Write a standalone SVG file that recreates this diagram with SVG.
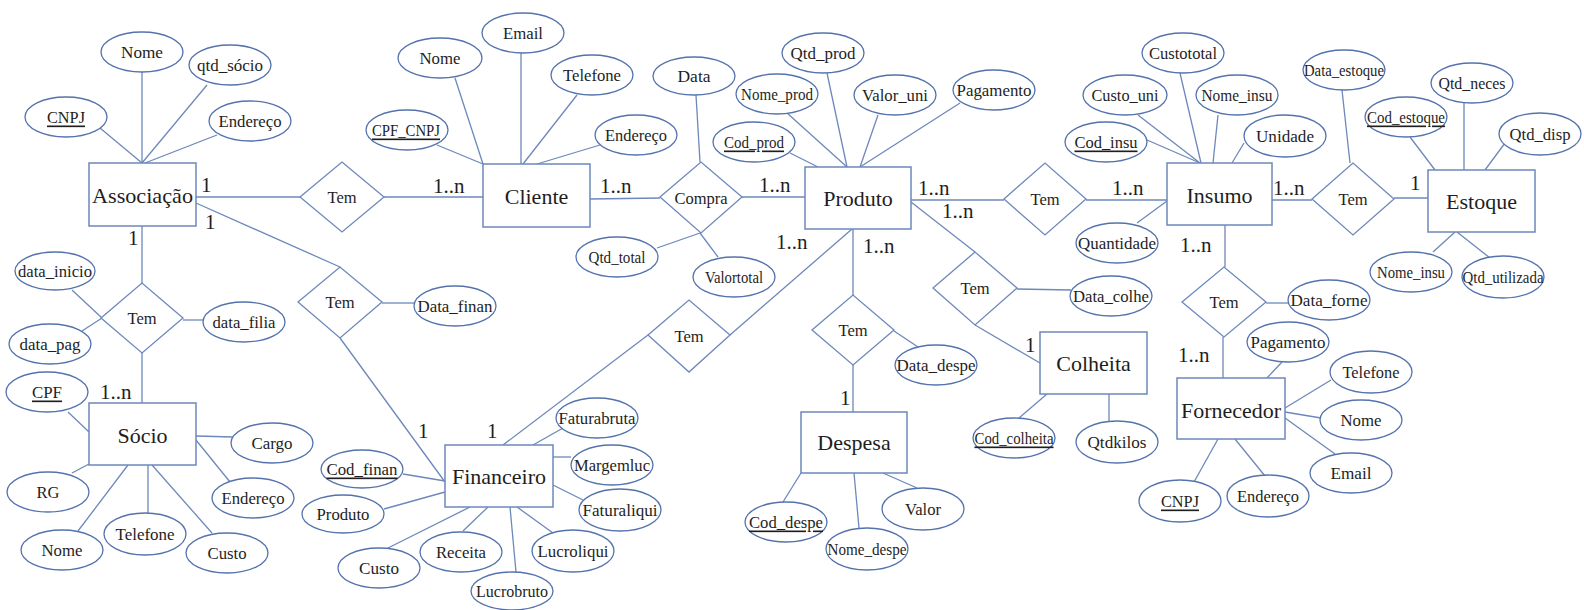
<svg xmlns="http://www.w3.org/2000/svg" width="1584" height="610" viewBox="0 0 1584 610">
<style>
  text { font-family: "Liberation Serif", "Times New Roman", serif; fill: #1e1e1e; }
  .ent rect { fill: #fff; stroke: #6d88bb; stroke-width: 1.5; }
  .ent text { font-size: 22px; text-anchor: middle; dominant-baseline: central; }
  .att ellipse { fill: #fff; stroke: #5473ad; stroke-width: 1.3; }
  .att text, .rel text { font-size: 16.5px; text-anchor: middle; dominant-baseline: central; }
  .rel polygon { fill: #fff; stroke: #6d88bb; stroke-width: 1.3; }
  .key { text-decoration: underline; }
  #connectors line { stroke: #6d88bb; stroke-width: 1.3; }
  .card { font-size: 21px; }
</style>
<rect width="1584" height="610" fill="#fff"/>

<!-- connectors -->
<g id="connectors">
  <!-- Associação -->
  <line x1="100" y1="128" x2="142" y2="163"/>
  <line x1="142" y1="72" x2="142" y2="163"/>
  <line x1="207" y1="85" x2="142" y2="163"/>
  <line x1="217" y1="135" x2="145" y2="163"/>
  <line x1="196" y1="197" x2="300" y2="197"/>
  <line x1="384" y1="197" x2="483" y2="197"/>
  <line x1="142" y1="226" x2="142" y2="283"/>
  <line x1="142" y1="353" x2="142" y2="403"/>
  <line x1="183" y1="320" x2="203" y2="320"/>
  <line x1="72" y1="290" x2="102" y2="318"/>
  <line x1="82" y1="331" x2="102" y2="318"/>
  <line x1="196" y1="203" x2="340" y2="267"/>
  <line x1="340" y1="338" x2="445" y2="482"/>
  <line x1="382" y1="303" x2="414" y2="303"/>
  <!-- Sócio -->
  <line x1="68" y1="412" x2="89" y2="432"/>
  <line x1="196" y1="436" x2="233" y2="437"/>
  <line x1="196" y1="440" x2="230" y2="482"/>
  <line x1="72" y1="473" x2="89" y2="464"/>
  <line x1="78" y1="531" x2="128" y2="465"/>
  <line x1="148" y1="513" x2="148" y2="465"/>
  <line x1="212" y1="533" x2="152" y2="465"/>
  <!-- Financeiro -->
  <line x1="403" y1="474" x2="445" y2="481"/>
  <line x1="384" y1="509" x2="445" y2="492"/>
  <line x1="388" y1="548" x2="470" y2="507"/>
  <line x1="488" y1="507" x2="463" y2="531"/>
  <line x1="510" y1="507" x2="516" y2="572"/>
  <line x1="517" y1="507" x2="553" y2="533"/>
  <line x1="553" y1="485" x2="583" y2="500"/>
  <line x1="553" y1="457" x2="571" y2="457"/>
  <line x1="533" y1="445" x2="563" y2="428"/>
  <line x1="503" y1="445" x2="648" y2="335"/>
  <line x1="730" y1="335" x2="852" y2="229"/>
  <!-- Cliente -->
  <line x1="437" y1="145" x2="483" y2="164"/>
  <line x1="455" y1="78" x2="483" y2="164"/>
  <line x1="521" y1="53" x2="521" y2="164"/>
  <line x1="577" y1="95" x2="523" y2="164"/>
  <line x1="600" y1="145" x2="537" y2="164"/>
  <line x1="590" y1="199" x2="660" y2="198"/>
  <line x1="742" y1="197" x2="805" y2="197"/>
  <line x1="696" y1="95" x2="700" y2="162"/>
  <line x1="657" y1="248" x2="700" y2="233"/>
  <line x1="718" y1="257" x2="700" y2="233"/>
  <!-- Produto -->
  <line x1="790" y1="153" x2="818" y2="167"/>
  <line x1="787" y1="113" x2="847" y2="167"/>
  <line x1="827" y1="73" x2="847" y2="167"/>
  <line x1="878" y1="115" x2="860" y2="167"/>
  <line x1="960" y1="103" x2="860" y2="167"/>
  <line x1="911" y1="200" x2="1004" y2="200"/>
  <line x1="1086" y1="200" x2="1167" y2="200"/>
  <line x1="911" y1="202" x2="975" y2="252"/>
  <line x1="975" y1="325" x2="1040" y2="363"/>
  <line x1="1017" y1="289" x2="1071" y2="290"/>
  <line x1="853" y1="229" x2="853" y2="295"/>
  <line x1="853" y1="365" x2="853" y2="412"/>
  <line x1="894" y1="331" x2="918" y2="347"/>
  <!-- Despesa / Colheita -->
  <line x1="801" y1="473" x2="783" y2="502"/>
  <line x1="854" y1="473" x2="859" y2="528"/>
  <line x1="883" y1="473" x2="917" y2="488"/>
  <line x1="1047" y1="394" x2="1019" y2="418"/>
  <line x1="1109" y1="394" x2="1109" y2="422"/>
  <!-- Insumo -->
  <line x1="1180" y1="73" x2="1201" y2="163"/>
  <line x1="1138" y1="115" x2="1200" y2="163"/>
  <line x1="1147" y1="140" x2="1200" y2="163"/>
  <line x1="1218" y1="115" x2="1213" y2="163"/>
  <line x1="1244" y1="143" x2="1232" y2="163"/>
  <line x1="1137" y1="223" x2="1167" y2="201"/>
  <line x1="1272" y1="200" x2="1312" y2="200"/>
  <line x1="1394" y1="198" x2="1428" y2="198"/>
  <line x1="1342" y1="90" x2="1350" y2="163"/>
  <line x1="1225" y1="225" x2="1225" y2="267"/>
  <line x1="1223" y1="337" x2="1223" y2="378"/>
  <line x1="1266" y1="303" x2="1289" y2="303"/>
  <!-- Estoque -->
  <line x1="1410" y1="137" x2="1435" y2="170"/>
  <line x1="1464" y1="103" x2="1464" y2="170"/>
  <line x1="1505" y1="143" x2="1485" y2="170"/>
  <line x1="1433" y1="252" x2="1455" y2="232"/>
  <line x1="1490" y1="258" x2="1457" y2="232"/>
  <!-- Fornecedor -->
  <line x1="1282" y1="362" x2="1267" y2="378"/>
  <line x1="1331" y1="380" x2="1285" y2="408"/>
  <line x1="1285" y1="412" x2="1321" y2="418"/>
  <line x1="1285" y1="418" x2="1335" y2="454"/>
  <line x1="1235" y1="439" x2="1265" y2="476"/>
  <line x1="1218" y1="439" x2="1194" y2="482"/>
</g>

<!-- cardinalities -->
<g id="cardinalities">
  <text class="card" x="201" y="192">1</text>
  <text class="card" x="205" y="229">1</text>
  <text class="card" x="128" y="245">1</text>
  <text class="card" x="100" y="399">1..n</text>
  <text class="card" x="433" y="193">1..n</text>
  <text class="card" x="600" y="193">1..n</text>
  <text class="card" x="759" y="192">1..n</text>
  <text class="card" x="776" y="249">1..n</text>
  <text class="card" x="863" y="253">1..n</text>
  <text class="card" x="918" y="195">1..n</text>
  <text class="card" x="942" y="218">1..n</text>
  <text class="card" x="1112" y="195">1..n</text>
  <text class="card" x="1273" y="195">1..n</text>
  <text class="card" x="1410" y="190">1</text>
  <text class="card" x="1180" y="252">1..n</text>
  <text class="card" x="1178" y="362">1..n</text>
  <text class="card" x="1025" y="352">1</text>
  <text class="card" x="840" y="405">1</text>
  <text class="card" x="418" y="438">1</text>
  <text class="card" x="487" y="438">1</text>
</g>

<!-- entities -->
<g id="associacao" class="ent"><rect x="89" y="163" width="107" height="63"/><text x="142.5" y="195" textLength="101" lengthAdjust="spacingAndGlyphs">Associação</text></g>
<g id="socio" class="ent"><rect x="89" y="403" width="107" height="62"/><text x="142.5" y="435">Sócio</text></g>
<g id="cliente" class="ent"><rect x="483" y="164" width="107" height="63"/><text x="536.5" y="196">Cliente</text></g>
<g id="produto" class="ent"><rect x="805" y="167" width="106" height="62"/><text x="858" y="198">Produto</text></g>
<g id="insumo" class="ent"><rect x="1167" y="163" width="105" height="62"/><text x="1219.5" y="195">Insumo</text></g>
<g id="estoque" class="ent"><rect x="1428" y="170" width="107" height="62"/><text x="1481.5" y="201">Estoque</text></g>
<g id="financeiro" class="ent"><rect x="445" y="445" width="108" height="62"/><text x="499" y="476">Financeiro</text></g>
<g id="despesa" class="ent"><rect x="801" y="412" width="106" height="61"/><text x="854" y="442">Despesa</text></g>
<g id="colheita" class="ent"><rect x="1040" y="332" width="107" height="62"/><text x="1093.5" y="363">Colheita</text></g>
<g id="fornecedor" class="ent"><rect x="1177" y="378" width="108" height="61"/><text x="1231" y="410">Fornecedor</text></g>

<!-- relationships -->
<g id="rel-associacao-cliente" class="rel"><polygon points="300,197 342,162 384,197 342,232"/><text x="342" y="197">Tem</text></g>
<g id="rel-associacao-socio" class="rel"><polygon points="101,318 142,283 183,318 142,353"/><text x="142" y="318">Tem</text></g>
<g id="rel-associacao-financeiro" class="rel"><polygon points="298,302 340,267 382,302 340,338"/><text x="340" y="302">Tem</text></g>
<g id="rel-compra" class="rel"><polygon points="660,197 701,162 742,197 701,233"/><text x="701" y="198">Compra</text></g>
<g id="rel-financeiro-produto" class="rel"><polygon points="648,335 689,300 730,335 689,372"/><text x="689" y="336">Tem</text></g>
<g id="rel-produto-insumo" class="rel"><polygon points="1004,199 1045,163 1086,199 1045,235"/><text x="1045" y="199">Tem</text></g>
<g id="rel-produto-colheita" class="rel"><polygon points="933,288 975,252 1017,288 975,325"/><text x="975" y="288">Tem</text></g>
<g id="rel-produto-despesa" class="rel"><polygon points="812,330 853,295 894,330 853,365"/><text x="853" y="330">Tem</text></g>
<g id="rel-insumo-estoque" class="rel"><polygon points="1312,199 1353,163 1394,199 1353,235"/><text x="1353" y="199">Tem</text></g>
<g id="rel-insumo-fornecedor" class="rel"><polygon points="1182,302 1224,267 1266,302 1224,337"/><text x="1224" y="302">Tem</text></g>

<!-- attributes -->
<g id="associacao-nome" class="att"><ellipse cx="142" cy="52" rx="41" ry="20"/><text x="142" y="52" textLength="42" lengthAdjust="spacingAndGlyphs">Nome</text></g>
<g id="associacao-qtd" class="att"><ellipse cx="230" cy="65" rx="41" ry="20"/><text x="230" y="65" textLength="66" lengthAdjust="spacingAndGlyphs">qtd_sócio</text></g>
<g id="associacao-cnpj" class="att"><ellipse cx="66" cy="117" rx="41" ry="20"/><text class="key" x="66" y="117" textLength="38" lengthAdjust="spacingAndGlyphs">CNPJ</text></g>
<g id="associacao-endereco" class="att"><ellipse cx="250" cy="121" rx="41" ry="20"/><text x="250" y="121" textLength="63" lengthAdjust="spacingAndGlyphs">Endereço</text></g>
<g id="filia-inicio" class="att"><ellipse cx="55" cy="271" rx="40" ry="19"/><text x="55" y="271" textLength="74" lengthAdjust="spacingAndGlyphs">data_inicio</text></g>
<g id="filia-data" class="att"><ellipse cx="244" cy="322" rx="41" ry="20"/><text x="244" y="322" textLength="63" lengthAdjust="spacingAndGlyphs">data_filia</text></g>
<g id="filia-pag" class="att"><ellipse cx="50" cy="344" rx="41" ry="20"/><text x="50" y="344" textLength="61" lengthAdjust="spacingAndGlyphs">data_pag</text></g>
<g id="socio-cpf" class="att"><ellipse cx="47" cy="392" rx="41" ry="20"/><text class="key" x="47" y="392" textLength="30" lengthAdjust="spacingAndGlyphs">CPF</text></g>
<g id="socio-cargo" class="att"><ellipse cx="272" cy="443" rx="41" ry="20"/><text x="272" y="443" textLength="41" lengthAdjust="spacingAndGlyphs">Cargo</text></g>
<g id="socio-endereco" class="att"><ellipse cx="253" cy="498" rx="41" ry="20"/><text x="253" y="498" textLength="63" lengthAdjust="spacingAndGlyphs">Endereço</text></g>
<g id="socio-rg" class="att"><ellipse cx="48" cy="492" rx="41" ry="20"/><text x="48" y="492" textLength="23" lengthAdjust="spacingAndGlyphs">RG</text></g>
<g id="socio-nome" class="att"><ellipse cx="62" cy="550" rx="41" ry="20"/><text x="62" y="550" textLength="41" lengthAdjust="spacingAndGlyphs">Nome</text></g>
<g id="socio-telefone" class="att"><ellipse cx="145" cy="534" rx="41" ry="21"/><text x="145" y="534" textLength="59" lengthAdjust="spacingAndGlyphs">Telefone</text></g>
<g id="socio-custo" class="att"><ellipse cx="227" cy="553" rx="41" ry="20"/><text x="227" y="553" textLength="39" lengthAdjust="spacingAndGlyphs">Custo</text></g>
<g id="finan-data" class="att"><ellipse cx="455" cy="306" rx="41" ry="20"/><text x="455" y="306" textLength="75" lengthAdjust="spacingAndGlyphs">Data_finan</text></g>
<g id="financeiro-cod" class="att"><ellipse cx="362" cy="469" rx="41" ry="19"/><text class="key" x="362" y="469" textLength="71" lengthAdjust="spacingAndGlyphs">Cod_finan</text></g>
<g id="financeiro-produto" class="att"><ellipse cx="343" cy="514" rx="41" ry="19"/><text x="343" y="514" textLength="53" lengthAdjust="spacingAndGlyphs">Produto</text></g>
<g id="financeiro-custo" class="att"><ellipse cx="379" cy="568" rx="41" ry="20"/><text x="379" y="568" textLength="40" lengthAdjust="spacingAndGlyphs">Custo</text></g>
<g id="financeiro-receita" class="att"><ellipse cx="461" cy="552" rx="41" ry="20"/><text x="461" y="552" textLength="50" lengthAdjust="spacingAndGlyphs">Receita</text></g>
<g id="financeiro-lucrobruto" class="att"><ellipse cx="512" cy="591" rx="41" ry="19"/><text x="512" y="591" textLength="72" lengthAdjust="spacingAndGlyphs">Lucrobruto</text></g>
<g id="financeiro-lucroliqui" class="att"><ellipse cx="573" cy="551" rx="41" ry="21"/><text x="573" y="551" textLength="71" lengthAdjust="spacingAndGlyphs">Lucroliqui</text></g>
<g id="financeiro-faturaliqui" class="att"><ellipse cx="620" cy="510" rx="41" ry="21"/><text x="620" y="510" textLength="75" lengthAdjust="spacingAndGlyphs">Faturaliqui</text></g>
<g id="financeiro-margemluc" class="att"><ellipse cx="612" cy="465" rx="41" ry="20"/><text x="612" y="465" textLength="76" lengthAdjust="spacingAndGlyphs">Margemluc</text></g>
<g id="financeiro-faturabruta" class="att"><ellipse cx="597" cy="418" rx="41" ry="20"/><text x="597" y="418" textLength="77" lengthAdjust="spacingAndGlyphs">Faturabruta</text></g>
<g id="cliente-cpf" class="att"><ellipse cx="407" cy="130" rx="41" ry="20"/><text class="key" x="406" y="130" textLength="68" lengthAdjust="spacingAndGlyphs">CPF_CNPJ</text></g>
<g id="cliente-nome" class="att"><ellipse cx="440" cy="58" rx="42" ry="20"/><text x="440" y="58" textLength="41" lengthAdjust="spacingAndGlyphs">Nome</text></g>
<g id="cliente-email" class="att"><ellipse cx="523" cy="33" rx="41" ry="20"/><text x="523" y="33" textLength="40" lengthAdjust="spacingAndGlyphs">Email</text></g>
<g id="cliente-telefone" class="att"><ellipse cx="592" cy="75" rx="41" ry="20"/><text x="592" y="75" textLength="58" lengthAdjust="spacingAndGlyphs">Telefone</text></g>
<g id="cliente-endereco" class="att"><ellipse cx="636" cy="135" rx="41" ry="20"/><text x="636" y="135" textLength="62" lengthAdjust="spacingAndGlyphs">Endereço</text></g>
<g id="compra-data" class="att"><ellipse cx="694" cy="76" rx="41" ry="19"/><text x="694" y="76" textLength="33" lengthAdjust="spacingAndGlyphs">Data</text></g>
<g id="compra-qtd" class="att"><ellipse cx="617" cy="257" rx="41" ry="20"/><text x="617" y="257" textLength="57" lengthAdjust="spacingAndGlyphs">Qtd_total</text></g>
<g id="compra-valor" class="att"><ellipse cx="734" cy="277" rx="41" ry="20"/><text x="734" y="277" textLength="58" lengthAdjust="spacingAndGlyphs">Valortotal</text></g>
<g id="produto-nome" class="att"><ellipse cx="777" cy="94" rx="41" ry="20"/><text x="777" y="94" textLength="72" lengthAdjust="spacingAndGlyphs">Nome_prod</text></g>
<g id="produto-cod" class="att"><ellipse cx="754" cy="142" rx="41" ry="20"/><text class="key" x="754" y="142" textLength="60" lengthAdjust="spacingAndGlyphs">Cod_prod</text></g>
<g id="produto-qtd" class="att"><ellipse cx="823" cy="53" rx="41" ry="20"/><text x="823" y="53" textLength="65" lengthAdjust="spacingAndGlyphs">Qtd_prod</text></g>
<g id="produto-valor" class="att"><ellipse cx="895" cy="95" rx="41" ry="20"/><text x="895" y="95" textLength="66" lengthAdjust="spacingAndGlyphs">Valor_uni</text></g>
<g id="produto-pagamento" class="att"><ellipse cx="994" cy="90" rx="41" ry="20"/><text x="994" y="90" textLength="75" lengthAdjust="spacingAndGlyphs">Pagamento</text></g>
<g id="insumo-custototal" class="att"><ellipse cx="1183" cy="53" rx="41" ry="20"/><text x="1183" y="53" textLength="68" lengthAdjust="spacingAndGlyphs">Custototal</text></g>
<g id="insumo-custouni" class="att"><ellipse cx="1125" cy="95" rx="42" ry="20"/><text x="1125" y="95" textLength="67" lengthAdjust="spacingAndGlyphs">Custo_uni</text></g>
<g id="insumo-nome" class="att"><ellipse cx="1237" cy="95" rx="41" ry="20"/><text x="1237" y="95" textLength="71" lengthAdjust="spacingAndGlyphs">Nome_insu</text></g>
<g id="insumo-cod" class="att"><ellipse cx="1106" cy="142" rx="41" ry="20"/><text class="key" x="1106" y="142" textLength="63" lengthAdjust="spacingAndGlyphs">Cod_insu</text></g>
<g id="insumo-unidade" class="att"><ellipse cx="1285" cy="136" rx="41" ry="21"/><text x="1285" y="136" textLength="58" lengthAdjust="spacingAndGlyphs">Unidade</text></g>
<g id="insumo-quantidade" class="att"><ellipse cx="1117" cy="243" rx="41" ry="20"/><text x="1117" y="243" textLength="78" lengthAdjust="spacingAndGlyphs">Quantidade</text></g>
<g id="estoque-data" class="att"><ellipse cx="1344" cy="70" rx="41" ry="20"/><text x="1344" y="70" textLength="80" lengthAdjust="spacingAndGlyphs">Data_estoque</text></g>
<g id="estoque-cod" class="att"><ellipse cx="1406" cy="117" rx="41" ry="20"/><text class="key" x="1406" y="117" textLength="78" lengthAdjust="spacingAndGlyphs">Cod_estoque</text></g>
<g id="estoque-neces" class="att"><ellipse cx="1472" cy="83" rx="41" ry="20"/><text x="1472" y="83" textLength="67" lengthAdjust="spacingAndGlyphs">Qtd_neces</text></g>
<g id="estoque-disp" class="att"><ellipse cx="1540" cy="134" rx="41" ry="21"/><text x="1540" y="134" textLength="61" lengthAdjust="spacingAndGlyphs">Qtd_disp</text></g>
<g id="estoque-nome" class="att"><ellipse cx="1411" cy="272" rx="41" ry="20"/><text x="1411" y="272" textLength="68" lengthAdjust="spacingAndGlyphs">Nome_insu</text></g>
<g id="estoque-utilizada" class="att"><ellipse cx="1503" cy="277" rx="41" ry="21"/><text x="1503" y="277" textLength="81" lengthAdjust="spacingAndGlyphs">Qtd_utilizada</text></g>
<g id="forne-data" class="att"><ellipse cx="1329" cy="300" rx="41" ry="20"/><text x="1329" y="300" textLength="77" lengthAdjust="spacingAndGlyphs">Data_forne</text></g>
<g id="fornecedor-pagamento" class="att"><ellipse cx="1288" cy="342" rx="41" ry="20"/><text x="1288" y="342" textLength="75" lengthAdjust="spacingAndGlyphs">Pagamento</text></g>
<g id="fornecedor-telefone" class="att"><ellipse cx="1371" cy="372" rx="41" ry="21"/><text x="1371" y="372" textLength="57" lengthAdjust="spacingAndGlyphs">Telefone</text></g>
<g id="fornecedor-nome" class="att"><ellipse cx="1361" cy="420" rx="41" ry="20"/><text x="1361" y="420" textLength="41" lengthAdjust="spacingAndGlyphs">Nome</text></g>
<g id="fornecedor-email" class="att"><ellipse cx="1351" cy="473" rx="41" ry="20"/><text x="1351" y="473" textLength="41" lengthAdjust="spacingAndGlyphs">Email</text></g>
<g id="fornecedor-endereco" class="att"><ellipse cx="1268" cy="496" rx="41" ry="21"/><text x="1268" y="496" textLength="62" lengthAdjust="spacingAndGlyphs">Endereço</text></g>
<g id="fornecedor-cnpj" class="att"><ellipse cx="1180" cy="501" rx="41" ry="21"/><text class="key" x="1180" y="501" textLength="38" lengthAdjust="spacingAndGlyphs">CNPJ</text></g>
<g id="despe-data" class="att"><ellipse cx="936" cy="365" rx="41" ry="20"/><text x="936" y="365" textLength="79" lengthAdjust="spacingAndGlyphs">Data_despe</text></g>
<g id="despesa-cod" class="att"><ellipse cx="786" cy="522" rx="41" ry="20"/><text class="key" x="786" y="522" textLength="74" lengthAdjust="spacingAndGlyphs">Cod_despe</text></g>
<g id="despesa-nome" class="att"><ellipse cx="867" cy="549" rx="41" ry="21"/><text x="867" y="549" textLength="79" lengthAdjust="spacingAndGlyphs">Nome_despe</text></g>
<g id="despesa-valor" class="att"><ellipse cx="923" cy="509" rx="41" ry="21"/><text x="923" y="509" textLength="36" lengthAdjust="spacingAndGlyphs">Valor</text></g>
<g id="colhe-data" class="att"><ellipse cx="1111" cy="296" rx="41" ry="20"/><text x="1111" y="296" textLength="76" lengthAdjust="spacingAndGlyphs">Data_colhe</text></g>
<g id="colheita-cod" class="att"><ellipse cx="1014" cy="438" rx="41" ry="20"/><text class="key" x="1014" y="438" textLength="79" lengthAdjust="spacingAndGlyphs">Cod_colheita</text></g>
<g id="colheita-kilos" class="att"><ellipse cx="1117" cy="442" rx="41" ry="21"/><text x="1117" y="442" textLength="59" lengthAdjust="spacingAndGlyphs">Qtdkilos</text></g>
</svg>
